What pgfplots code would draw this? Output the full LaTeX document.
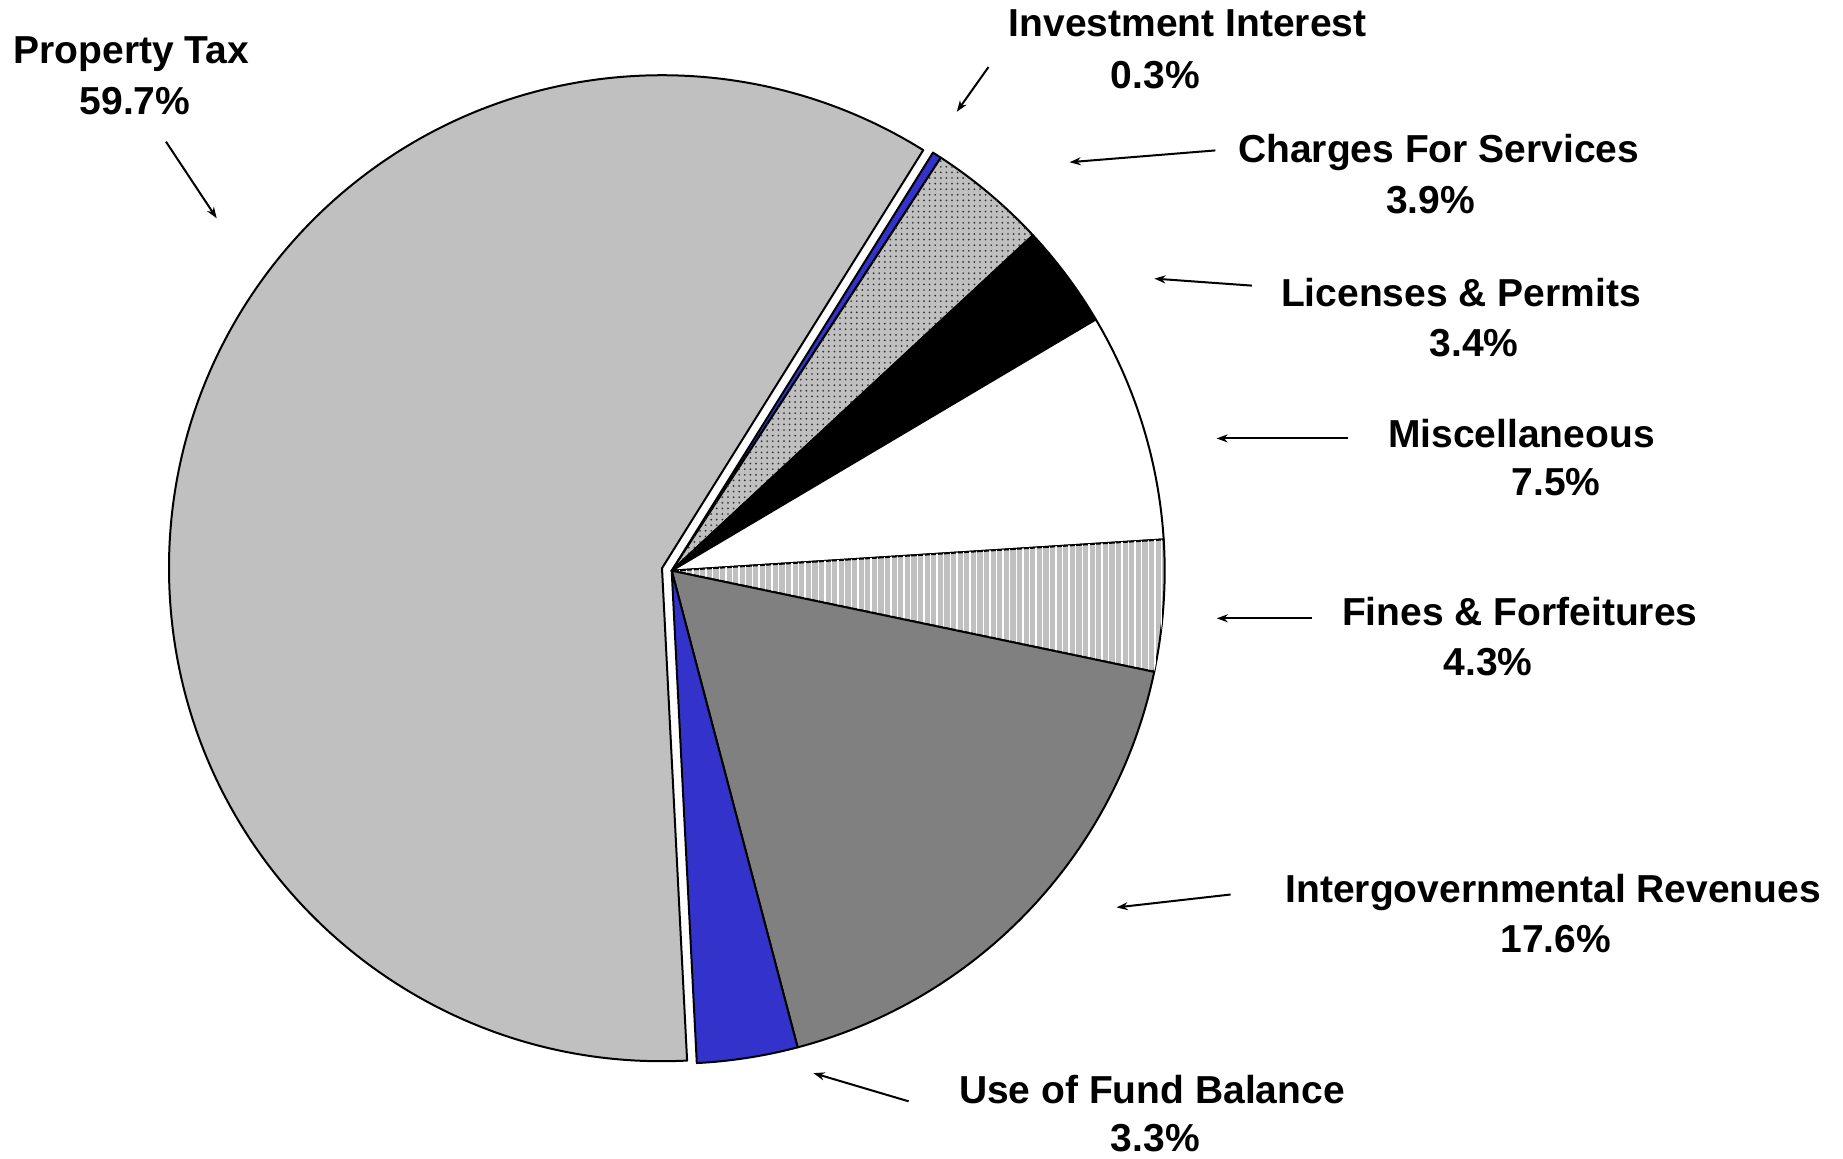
\documentclass[border=0pt]{standalone}
\usepackage{pgfplots}
\pgfplotsset{compat=1.18}
\usepackage{fontspec}
\setmainfont{Liberation Sans}
\usetikzlibrary{arrows.meta,patterns.meta}
\definecolor{pblue}{RGB}{51,51,204}
\definecolor{lgray}{RGB}{192,192,192}
\definecolor{mgray}{RGB}{128,128,128}
\definecolor{dotc}{RGB}{50,50,50}
\newcommand\lbl{\fontsize{9.75pt}{11pt}\selectfont\bfseries}
\tikzset{
  sl/.style={draw=black, line width=0.5pt, line join=round},
  inv/.style={sl, fill=pblue},
  chg/.style={sl, fill=lgray, postaction={pattern={Dots[distance=1.4pt, radius=0.24pt]}, pattern color=dotc}},
  lic/.style={sl, fill=black},
  misc/.style={sl, fill=white},
  fin/.style={sl, fill=lgray, postaction={pattern={Lines[angle=90, distance=1.65pt, line width=0.35pt]}, pattern color=white}},
  igr/.style={sl, fill=mgray},
  ufb/.style={sl, fill=pblue},
  ptx/.style={sl, fill=lgray},
  arr/.style={line width=0.5pt, -{Stealth[length=2.8pt, width=2pt]}},
}
\begin{document}
\begin{tikzpicture}
\begin{axis}[
  scale only axis, width=460.75pt, height=289.5pt,
  xmin=0, xmax=1843, ymin=0, ymax=1158, y dir=reverse,
  hide axis, clip=false,
]
\path (axis cs:0,0) rectangle (axis cs:1843,1158);
% slices, clockwise from 58 degrees; values in percent
\xdef\ang{58}
\foreach \p/\sty in {0.3/inv, 3.9/chg, 3.4/lic, 7.5/misc, 4.3/fin, 17.6/igr, 3.3/ufb}{
  \pgfmathsetmacro\b{\ang-3.6*\p}
  \edef\cmd{\noexpand\path[\sty] (axis cs:671.7,570.7) -- ++(\ang:123.25pt) arc[start angle=\ang, end angle=\b, radius=123.25pt] -- cycle;}
  \cmd
  \xdef\ang{\b}
}
% Property Tax 59.7, exploded
\pgfmathsetmacro\pe{\ang-3.6*59.7}
\edef\cmd{\noexpand\path[ptx] (axis cs:662.0,568.2) -- ++(\ang:123.25pt) arc[start angle=\ang, end angle=\pe, radius=123.25pt] -- cycle;}
\cmd
% arrows
\draw[arr] (axis cs:166,141.7) -- (axis cs:216.7,218.3);
\draw[arr] (axis cs:988.5,67) -- (axis cs:956.8,111.7);
\draw[arr] (axis cs:1215.4,150.4) -- (axis cs:1069.6,162.2);
\draw[arr] (axis cs:1251.8,285.6) -- (axis cs:1154.3,278.6);
\draw[arr] (axis cs:1348.2,438.4) -- (axis cs:1216.5,438.4);
\draw[arr] (axis cs:1311.7,618.3) -- (axis cs:1216.7,618.3);
\draw[arr] (axis cs:1230.6,894.5) -- (axis cs:1116.6,907.4);
\draw[arr] (axis cs:908.6,1101.3) -- (axis cs:813.4,1073.1);
% labels
\tikzset{lab/.style={anchor=base, inner sep=0pt, font=\lbl}}
\node[lab] at (axis cs:131.5,63.5) {Property Tax};
\node[lab] at (axis cs:135,114.3) {59.7\%};
\node[lab] at (axis cs:1187.7,36.5) {Investment Interest};
\node[lab] at (axis cs:1155.4,88) {0.3\%};
\node[lab] at (axis cs:1438.7,162) {Charges For Services};
\node[lab] at (axis cs:1430.5,213) {3.9\%};
\node[lab] at (axis cs:1461,306) {Licenses \& Permits};
\node[lab] at (axis cs:1474,356) {3.4\%};
\node[lab] at (axis cs:1521.5,447) {Miscellaneous};
\node[lab] at (axis cs:1556.2,495) {7.5\%};
\node[lab] at (axis cs:1519.8,625) {Fines \& Forfeitures};
\node[lab] at (axis cs:1488,675) {4.3\%};
\node[lab] at (axis cs:1553.3,902) {Intergovernmental Revenues};
\node[lab] at (axis cs:1555.6,952) {17.6\%};
\node[lab] at (axis cs:1151.9,1103) {Use of Fund Balance};
\node[lab] at (axis cs:1155.4,1151) {3.3\%};
\end{axis}
\end{tikzpicture}
\end{document}
